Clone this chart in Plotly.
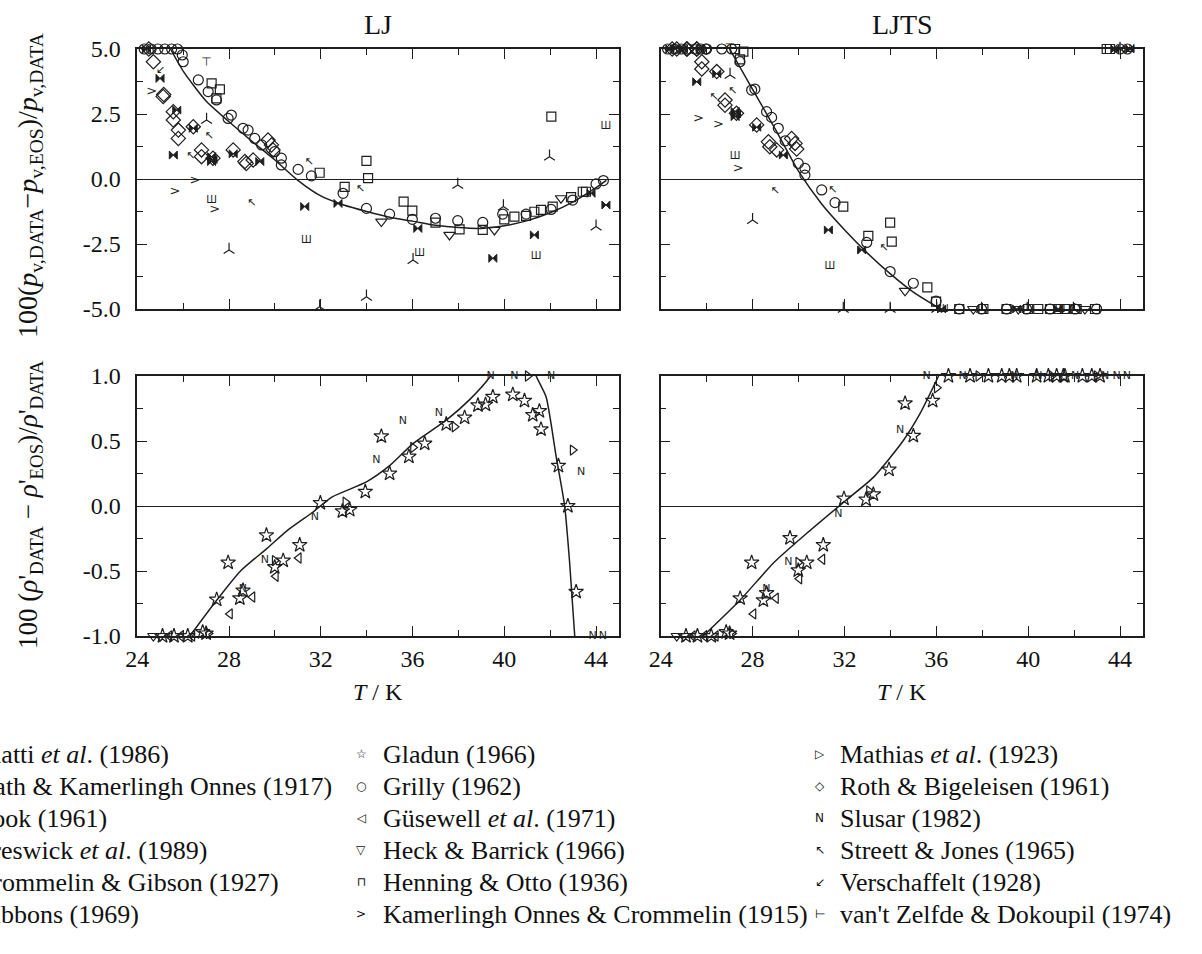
import numpy as np
import plotly.graph_objects as go

# ---------------- vapour pressure deviations, 100(p_DATA - p_EOS)/p_DATA ----------------
GRILLY_T_PV = [24.3, 24.6, 24.9, 25.2, 25.5, 25.75, 25.96, 26.0, 26.66, 27.09, 27.45, 27.96, 28.1,
               28.61, 28.83, 29.12, 29.42, 29.99, 30.28, 30.28, 31.01, 31.59, 32.97, 33.99, 35.0,
               35.99, 37.0, 37.97, 39.06, 39.93, 40.95, 42.04, 42.98, 44.0, 44.32]
GRILLY_PV_LJ = [8.0, 7.6, 7.0, 6.4, 5.8, 5.3, 4.77, 4.51, 3.81, 3.36, 3.04, 2.33, 2.46,
                1.95, 1.88, 1.56, 1.31, 1.05, 0.8, 0.54, 0.37, 0.12, -0.55, -1.13, -1.35,
                -1.55, -1.51, -1.6, -1.67, -1.35, -1.35, -1.17, -0.81, -0.19, -0.06]
GRILLY_PV_LJTS = [11.0, 10.5, 9.8, 9.0, 8.3, 7.6, 7.0, 6.8, 5.7, 5.1, 4.51, 3.42, 3.46,
                  2.59, 2.37, 1.95, 1.47, 0.6, 0.41, 0.15, -0.42, -0.91, -2.44, -3.56, -4.01,
                  -4.7, -5.6, -6.3, -7.0, -7.2, -8.0, -8.6, -9.5, 6.5, 8.0]

HENNING_T_PV = [27.24, 27.45, 27.6, 31.95, 33.04, 33.99, 34.06, 35.61, 35.99, 37.0, 38.05,
                39.06, 40.0, 40.44, 40.95, 41.31, 41.6, 42.05, 42.11, 42.91, 43.42, 43.56]
HENNING_PV_LJ = [3.68, 3.1, 3.45, 0.24, -0.3, 0.7, 0.03, -0.87, -1.22, -1.68, -1.94,
                 -1.96, -1.55, -1.45, -1.42, -1.26, -1.19, 2.4, -1.06, -0.7, -0.49, -0.49]
HENNING_PV_LJTS = [5.4, 4.6, 4.9, -1.06, -2.19, -1.68, -2.41, -4.17, -4.72, -5.5, -6.0,
                   -6.6, -7.0, -7.3, -7.6, -7.9, -8.0, -5.8, -8.5, -9.0, 6.0, 6.5]

HECK_T_PV = [34.64, 37.61, 39.57, 42.47]
HECK_PV_LJ = [-1.64, -2.15, -1.96, -0.74]
HECK_PV_LJTS = [-4.3, -6.2, -7.0, -9.0]

ROTH_T_PV = [24.5, 24.7, 25.13, 25.15, 25.57, 25.57, 25.79, 25.79, 26.44, 26.8, 26.8,
             27.3, 28.18, 28.69, 28.75, 29.05, 29.7, 29.85, 29.92]
ROTH_PV_LJ = [5.6, 4.51, 3.17, 3.25, 2.59, 2.27, 1.88, 1.56, 2.01, 1.12, 0.86,
              0.8, 1.12, 0.67, 0.6, 0.73, 1.5, 1.31, 1.12]
ROTH_PV_LJTS = [8.5, 7.5, 6.2, 6.3, 5.3, 5.0, 4.51, 4.23, 4.13, 3.04, 2.84,
                2.53, 2.08, 1.43, 1.24, 1.12, 1.56, 1.37, 1.15]

CROMMELIN_T_PV = [24.4, 24.99, 25.57, 25.72, 26.44, 27.24, 27.24, 27.3, 28.18, 29.34,
                  31.3, 32.75, 36.23, 39.5, 41.31, 43.78, 44.43]
CROMMELIN_PV_LJ = [5.5, 3.87, 0.92, 2.65, 1.95, 0.86, 0.67, 0.75, 0.97, 0.67,
                   -1.06, -0.94, -1.9, -3.05, -2.15, -0.55, -1.0]
CROMMELIN_PV_LJTS = [8.2, 6.0, 3.74, 5.4, 4.05, 2.6, 2.4, 2.5, 1.99, 0.92,
                     -1.96, -2.73, -5.3, -7.5, -8.0, 6.0, 7.0]

GIBBONS_T_PV = [27.24, 31.37, 36.31, 41.39, 44.43]
GIBBONS_PV_LJ = [-0.81, -2.35, -2.86, -2.99, 2.01]
GIBBONS_PV_LJTS = [0.86, -3.37, -6.2, -8.8, 9.0]

CATH_T_PV = [27.02, 28.0, 31.95, 33.99, 36.02, 37.97, 39.96, 41.97, 44.0]
CATH_PV_LJ = [2.27, -2.73, -4.91, -4.53, -3.12, -0.23, -1.06, 0.86, -1.83]
CATH_PV_LJTS = [4.0, -1.58, -6.3, -7.0, -6.4, -5.3, -7.0, -6.0, 7.0]

KOC_T_PV = [24.63, 25.64, 26.51, 27.38]
KOC_PV_LJ = [3.36, -0.49, -0.07, -1.19]
KOC_PV_LJTS = [6.2, 2.33, 2.08, 0.41]

STREETT_T_PV = [26.32, 27.13, 28.98, 31.49, 33.72]
STREETT_PV_LJ = [0.86, 1.65, -0.94, 0.63, -0.38]
STREETT_PV_LJTS = [3.14, 3.36, -0.49, -0.42, -2.67]

VERSCH_T_PV = [25.0]
VERSCH_PV_LJ = [4.2]
VERSCH_PV_LJTS = [6.8]

ZELFDE_T_PV = [27.02]
ZELFDE_PV_LJ = [4.47]
ZELFDE_PV_LJTS = [6.2]

# ---------------- saturated liquid density deviations ----------------
GLADUN_T_RHO = [25.1, 25.6, 26.2, 26.85, 27.0, 27.46, 27.96, 28.47, 28.61, 29.63, 29.99,
                30.36, 31.08, 31.98, 32.94, 33.26, 33.94, 34.64, 35.0, 35.84, 36.53, 37.47,
                38.27, 38.85, 39.18, 39.5, 40.37, 40.88, 41.24, 41.53, 41.6, 42.36, 42.77, 43.13]
GLADUN_RHO_LJ = [-1.3, -1.25, -1.15, -0.97, -0.98, -0.72, -0.435, -0.71, -0.65, -0.225, -0.47,
                 -0.42, -0.30, 0.023, -0.04, -0.03, 0.11, 0.536, 0.25, 0.38, 0.48, 0.63,
                 0.68, 0.775, 0.78, 0.84, 0.857, 0.81, 0.70, 0.73, 0.59, 0.31, 0.0, -0.66]
GLADUN_RHO_LJTS = [-1.3, -1.25, -1.12, -0.97, -0.98, -0.71, -0.435, -0.725, -0.67, -0.246, -0.495,
                   -0.435, -0.30, 0.057, 0.05, 0.09, 0.28, 0.79, 0.54, 0.81, 1.03, 1.25,
                   1.4, 1.6, 1.7, 1.8, 2.1, 2.3, 2.5, 2.6, 2.6, 2.8, 3.0, 3.0]

GUSEWELL_T_RHO = [25.4, 25.9, 26.4, 28.04, 29.02, 30.04, 31.04]
GUSEWELL_RHO_LJ = [-1.2, -1.15, -1.1, -0.83, -0.70, -0.54, -0.40]
GUSEWELL_RHO_LJTS = [-1.2, -1.15, -1.1, -0.83, -0.71, -0.56, -0.41]

MATHIAS_T_RHO = [27.1, 29.99, 33.07, 36.02, 37.83, 41.02, 42.98]
MATHIAS_RHO_LJ = [-0.98, -0.42, 0.03, 0.45, 0.61, 1.08, 0.43]
MATHIAS_RHO_LJTS = [-0.98, -0.435, 0.115, 0.91, 1.3, 2.2, 3.0]

SLUSAR_T_RHO = [28.6, 29.56, 31.74, 34.42, 35.58, 37.15, 39.4, 40.44, 42.04, 43.35, 43.85, 44.3]
SLUSAR_RHO_LJ = [-0.64, -0.42, -0.085, 0.35, 0.65, 0.71, 1.05, 1.1, 1.1, 0.26, -1.1, -1.4]
SLUSAR_RHO_LJTS = [-0.64, -0.435, -0.064, 0.58, 1.1, 1.3, 1.8, 2.0, 2.4, 3.0, 3.0, 3.0]

HECK_T_RHO = [24.7, 25.0]
HECK_RHO_LJ = [-1.2, -1.2]
HECK_RHO_LJTS = [-1.2, -1.2]

# ---------------- equation of state deviation curves ----------------
CURVE_T_PV_LJ = [25.45, 26, 27, 28, 29, 30, 31, 32, 33, 34, 35, 36, 37, 38, 39, 40, 41, 42, 43, 43.85, 44.45]
CURVE_PV_LJ = [5.0, 4.15, 3.0, 2.2, 1.45, 0.73, -0.05, -0.65, -1.0, -1.25, -1.47, -1.62, -1.78,
               -1.87, -1.9, -1.8, -1.6, -1.3, -0.88, -0.42, -0.05]
CURVE_T_PV_LJTS = [27.0, 28, 29, 30, 31, 32, 33, 34, 35, 36, 36.3]
CURVE_PV_LJTS = [5.0, 3.45, 1.9, 0.3, -0.95, -1.95, -2.85, -3.65, -4.35, -4.9, -5.05]

CURVE_T_RHO_LJ = [26.29, 27.46, 28.5, 29.63, 30.6, 31.66, 32.5, 33.99, 35.0, 36.02, 37.47, 38.5,
                  39.36, 40.0, 40.6, 41.1, 41.39, 41.82, 42.26, 42.63, 42.85, 43.07]
CURVE_RHO_LJ = [-1.0, -0.725, -0.5, -0.33, -0.18, -0.046, 0.07, 0.185, 0.31, 0.48, 0.66, 0.82,
                0.99, 1.18, 1.28, 1.17, 1.0, 0.84, 0.38, 0.0, -0.44, -1.0]
CURVE_T_RHO_LJTS = [25.85, 27.45, 28.9, 30.36, 32.04, 33.26, 34.55, 35.29, 36.1]
CURVE_RHO_LJTS = [-1.0, -0.725, -0.44, -0.21, 0.04, 0.22, 0.5, 0.71, 1.0]

# ---------------- tick labels and legend text ----------------
X_TICKS = [24, 28, 32, 36, 40, 44]
PV_TICKS = [5.0, 2.5, 0.0, -2.5, -5.0]
PV_TICKTEXT = ["5.0", "2.5", "0.0", "-2.5", "-5.0"]
RHO_TICKS = [1.0, 0.5, 0.0, -0.5, -1.0]
RHO_TICKTEXT = ["1.0", "0.5", "0.0", "-0.5", "-1.0"]

LEGEND_COL1 = ["Bonatti <i>et al</i>. (1986)", "Cath & Kamerlingh Onnes (1917)", "Cook (1961)",
               "Creswick <i>et al</i>. (1989)", "Crommelin & Gibson (1927)", "Gibbons (1969)"]
LEGEND_COL2 = ["Gladun (1966)", "Grilly (1962)", "Güsewell <i>et al</i>. (1971)",
               "Heck & Barrick (1966)", "Henning & Otto (1936)", "Kamerlingh Onnes & Crommelin (1915)"]
LEGEND_COL2_SYM = ["☆", "○", "◁", "▽", "⊓", ">"]
LEGEND_COL3 = ["Mathias <i>et al</i>. (1923)", "Roth & Bigeleisen (1961)", "Slusar (1982)",
               "Streett & Jones (1965)", "Verschaffelt (1928)", "van't Zelfde & Dokoupil (1974)"]
LEGEND_COL3_SYM = ["▷", "◇", "N", "↖", "↙", "⊢"]

# ---------------- figure ----------------
W, H = 1202, 954
INK = "#1e1e1e"
SERIF = "Liberation Serif, Times New Roman, serif"
SANS = "DejaVu Sans, sans-serif"

def fx(px):
    return px / W

def fy(py):
    return 1 - py / H

PANEL_X = {"L": [fx(137.3), fx(619.0)], "R": [fx(660.7), fx(1143.0)]}
PANEL_Y = {"T": [fy(309.0), fy(49.0)], "B": [fy(636.0), fy(376.0)]}

PV_RANGE = (-5.0, 5.0)
RHO_RANGE = (-1.0, 1.0)

fig = go.Figure()

def open_marker(symbol, size):
    return dict(mode="markers",
                marker=dict(symbol=symbol, size=size, color=INK,
                            line=dict(width=1.2, color=INK)))

def glyph(ch, size):
    return dict(mode="text", text=ch,
                textfont=dict(family=SANS, size=size, color=INK))

STYLES = {
    "grilly": open_marker("circle-open", 10),
    "henning": open_marker("square-open", 9),
    "heck": open_marker("triangle-down-open", 10),
    "roth": open_marker("diamond-open", 11),
    "crommelin": dict(mode="markers", marker=dict(symbol="bowtie", size=8, color=INK,
                                                  line=dict(width=1, color=INK))),
    "gibbons": glyph("Ш", 10),
    "cath": open_marker("y-up-open", 9),
    "koc": glyph(">", 13),
    "streett": glyph("↖", 11),
    "versch": glyph("↙", 11),
    "zelfde": glyph("⊤", 12),
    "gladun": open_marker("star-open", 11),
    "gusewell": open_marker("triangle-left-open", 9),
    "mathias": open_marker("triangle-right-open", 9),
    "slusar": glyph("N", 11),
}

def add(T, vals, style, xa, ya, rng, name):
    y = np.clip(np.asarray(vals, dtype=float), rng[0], rng[1])
    fig.add_trace(go.Scatter(x=T, y=y, xaxis=xa, yaxis=ya, name=name,
                             cliponaxis=False, showlegend=False, **STYLES[style]))

PV_SETS = [
    ("grilly", GRILLY_T_PV, GRILLY_PV_LJ, GRILLY_PV_LJTS, "Grilly (1962)"),
    ("henning", HENNING_T_PV, HENNING_PV_LJ, HENNING_PV_LJTS, "Henning & Otto (1936)"),
    ("heck", HECK_T_PV, HECK_PV_LJ, HECK_PV_LJTS, "Heck & Barrick (1966)"),
    ("roth", ROTH_T_PV, ROTH_PV_LJ, ROTH_PV_LJTS, "Roth & Bigeleisen (1961)"),
    ("crommelin", CROMMELIN_T_PV, CROMMELIN_PV_LJ, CROMMELIN_PV_LJTS, "Crommelin & Gibson (1927)"),
    ("gibbons", GIBBONS_T_PV, GIBBONS_PV_LJ, GIBBONS_PV_LJTS, "Gibbons (1969)"),
    ("cath", CATH_T_PV, CATH_PV_LJ, CATH_PV_LJTS, "Cath & Kamerlingh Onnes (1917)"),
    ("koc", KOC_T_PV, KOC_PV_LJ, KOC_PV_LJTS, "Kamerlingh Onnes & Crommelin (1915)"),
    ("streett", STREETT_T_PV, STREETT_PV_LJ, STREETT_PV_LJTS, "Streett & Jones (1965)"),
    ("versch", VERSCH_T_PV, VERSCH_PV_LJ, VERSCH_PV_LJTS, "Verschaffelt (1928)"),
    ("zelfde", ZELFDE_T_PV, ZELFDE_PV_LJ, ZELFDE_PV_LJTS, "van't Zelfde & Dokoupil (1974)"),
]
RHO_SETS = [
    ("heck", HECK_T_RHO, HECK_RHO_LJ, HECK_RHO_LJTS, "Heck & Barrick (1966)"),
    ("gusewell", GUSEWELL_T_RHO, GUSEWELL_RHO_LJ, GUSEWELL_RHO_LJTS, "Güsewell et al. (1971)"),
    ("mathias", MATHIAS_T_RHO, MATHIAS_RHO_LJ, MATHIAS_RHO_LJTS, "Mathias et al. (1923)"),
    ("slusar", SLUSAR_T_RHO, SLUSAR_RHO_LJ, SLUSAR_RHO_LJTS, "Slusar (1982)"),
    ("gladun", GLADUN_T_RHO, GLADUN_RHO_LJ, GLADUN_RHO_LJTS, "Gladun (1966)"),
]

curve_line = dict(color=INK, width=1.5, shape="spline", smoothing=0.6)
fig.add_trace(go.Scatter(x=CURVE_T_PV_LJ, y=CURVE_PV_LJ, mode="lines", line=curve_line,
                         xaxis="x", yaxis="y", showlegend=False))
fig.add_trace(go.Scatter(x=CURVE_T_PV_LJTS, y=CURVE_PV_LJTS, mode="lines", line=curve_line,
                         xaxis="x2", yaxis="y2", showlegend=False))
fig.add_trace(go.Scatter(x=CURVE_T_RHO_LJ, y=CURVE_RHO_LJ, mode="lines", line=curve_line,
                         xaxis="x3", yaxis="y3", showlegend=False))
fig.add_trace(go.Scatter(x=CURVE_T_RHO_LJTS, y=CURVE_RHO_LJTS, mode="lines", line=curve_line,
                         xaxis="x4", yaxis="y4", showlegend=False))

for style, T, lj, ljts, name in PV_SETS:
    add(T, lj, style, "x", "y", PV_RANGE, name)
    add(T, ljts, style, "x2", "y2", PV_RANGE, name)
for style, T, lj, ljts, name in RHO_SETS:
    add(T, lj, style, "x3", "y3", RHO_RANGE, name)
    add(T, ljts, style, "x4", "y4", RHO_RANGE, name)

tickfont = dict(family=SERIF, size=24, color="#111")

def xaxis(dom, anchor, labels):
    return dict(domain=dom, anchor=anchor, range=[24, 45], showgrid=False, zeroline=False,
                showline=True, linecolor=INK, linewidth=1.5, mirror="ticks",
                ticks="inside", ticklen=10, tickwidth=1.4, tickcolor=INK,
                tickmode="array", tickvals=X_TICKS, ticktext=[str(v) for v in X_TICKS],
                showticklabels=labels, tickfont=tickfont,
                minor=dict(tickmode="linear", tick0=24, dtick=2, ticks="inside", ticklen=6,
                           tickwidth=1.2, tickcolor=INK, showgrid=False))

def yaxis(dom, anchor, rng, vals, text, minor_dt, labels):
    return dict(domain=dom, anchor=anchor, range=list(rng), showgrid=False,
                zeroline=True, zerolinecolor=INK, zerolinewidth=1.3,
                showline=True, linecolor=INK, linewidth=1.5, mirror="ticks",
                ticks="inside", ticklen=10, tickwidth=1.4, tickcolor=INK,
                tickmode="array", tickvals=vals, ticktext=text,
                showticklabels=labels, tickfont=tickfont, ticklabelstandoff=10,
                minor=dict(tickmode="linear", tick0=0, dtick=minor_dt, ticks="inside", ticklen=6,
                           tickwidth=1.2, tickcolor=INK, showgrid=False))

fig.update_layout(
    width=W, height=H, margin=dict(l=0, r=0, t=0, b=0, autoexpand=False),
    paper_bgcolor="white", plot_bgcolor="white", showlegend=False,
    xaxis=xaxis(PANEL_X["L"], "y", False),
    xaxis2=xaxis(PANEL_X["R"], "y2", False),
    xaxis3=xaxis(PANEL_X["L"], "y3", True),
    xaxis4=xaxis(PANEL_X["R"], "y4", True),
    yaxis=yaxis(PANEL_Y["T"], "x", PV_RANGE, PV_TICKS, PV_TICKTEXT, 1.25, True),
    yaxis2=yaxis(PANEL_Y["T"], "x2", PV_RANGE, PV_TICKS, PV_TICKTEXT, 1.25, False),
    yaxis3=yaxis(PANEL_Y["B"], "x3", RHO_RANGE, RHO_TICKS, RHO_TICKTEXT, 0.25, True),
    yaxis4=yaxis(PANEL_Y["B"], "x4", RHO_RANGE, RHO_TICKS, RHO_TICKTEXT, 0.25, False),
)

ann = []

def text_at(px, py, s, size, xanchor="center", angle=0, family=SERIF):
    ann.append(dict(x=fx(px), y=fy(py), xref="paper", yref="paper", text=s, showarrow=False,
                    xanchor=xanchor, yanchor="middle", textangle=angle,
                    font=dict(family=family, size=size, color="#111")))

# panel titles
text_at(378, 25, "LJ", 28)
text_at(902, 25, "LJTS", 28)
# axis titles
text_at(378, 692, "<i>T</i> / K", 24)
text_at(902, 692, "<i>T</i> / K", 24)
text_at(30, 186, "100(<i>p</i><sub>v,DATA</sub>−<i>p</i><sub>v,EOS</sub>)/<i>p</i><sub>v,DATA</sub>", 28, angle=-90)
text_at(30, 505, "100 (<i>ρ</i>'<sub>DATA</sub> − <i>ρ</i>'<sub>EOS</sub>)/<i>ρ</i>'<sub>DATA</sub>", 27, angle=-90)

# legend, three columns
ROW_Y = [754, 786, 818, 850, 882, 914]
COL1_RIGHT = [171, 334, 109, 210, 281, 141]
for i, y in enumerate(ROW_Y):
    text_at(COL1_RIGHT[i], y, LEGEND_COL1[i], 26, xanchor="right")
    text_at(361, y, LEGEND_COL2_SYM[i], 12, family=SANS)
    text_at(381, y, LEGEND_COL2[i], 26, xanchor="left")
    text_at(820, y, LEGEND_COL3_SYM[i], 12, family=SANS)
    text_at(838, y, LEGEND_COL3[i], 26, xanchor="left")

fig.update_layout(annotations=ann)
fig.write_html("out.html")
